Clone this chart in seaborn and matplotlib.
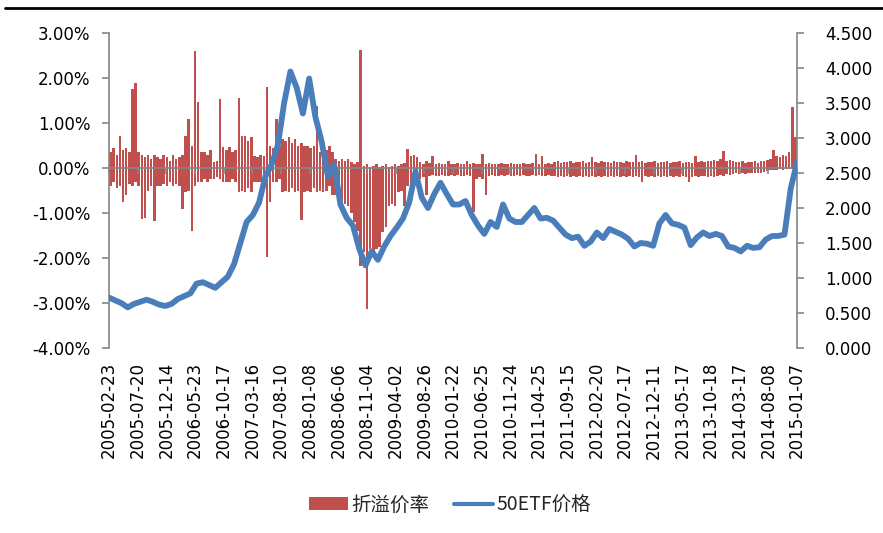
import matplotlib
matplotlib.use("Agg")
import matplotlib.pyplot as plt
import seaborn as sns
import numpy as np
from matplotlib.patches import Patch
from matplotlib.lines import Line2D
from matplotlib.ticker import FuncFormatter

# ---------------- data ----------------
tick_labels = ["2005-02-23", "2005-07-20", "2005-12-14", "2006-05-23", "2006-10-17",
               "2007-03-16", "2007-08-10", "2008-01-08", "2008-06-06", "2008-11-04",
               "2009-04-02", "2009-08-26", "2010-01-22", "2010-06-25", "2010-11-24",
               "2011-04-25", "2011-09-15", "2012-02-20", "2012-07-17", "2012-12-11",
               "2013-05-17", "2013-10-18", "2014-03-17", "2014-08-08", "2015-01-07"]

# 50ETF price, 111 evenly spaced samples over the whole period
price = [0.72, 0.68, 0.64, 0.58, 0.63, 0.66, 0.69, 0.66, 0.62, 0.60,
         0.63, 0.70, 0.74, 0.78, 0.92, 0.94, 0.90, 0.86, 0.94, 1.02,
         1.20, 1.50, 1.80, 1.90, 2.08, 2.45, 2.62, 2.90, 3.50, 3.95,
         3.72, 3.35, 3.85, 3.30, 2.95, 2.45, 2.62, 2.05, 1.86, 1.75,
         1.42, 1.18, 1.38, 1.26, 1.45, 1.60, 1.72, 1.85, 2.08, 2.52,
         2.15, 2.00, 2.20, 2.36, 2.20, 2.05, 2.05, 2.10, 1.90, 1.75,
         1.63, 1.80, 1.73, 2.05, 1.85, 1.80, 1.80, 1.90, 2.00, 1.85,
         1.86, 1.82, 1.72, 1.62, 1.57, 1.59, 1.46, 1.52, 1.65, 1.57,
         1.70, 1.66, 1.62, 1.56, 1.45, 1.50, 1.49, 1.46, 1.78, 1.90,
         1.78, 1.76, 1.72, 1.47, 1.58, 1.65, 1.60, 1.63, 1.60, 1.45,
         1.43, 1.38, 1.46, 1.43, 1.44, 1.55, 1.60, 1.60, 1.62, 2.28,
         2.65]

# premium / discount rate (%), upper and lower extent in 220 evenly spaced slices
prem_pos = [0.35, 0.45, 0.30, 0.72, 0.40, 0.45, 0.35, 1.75, 1.90, 0.35,
            0.30, 0.25, 0.30, 0.20, 0.28, 0.25, 0.20, 0.30, 0.25, 0.15,
            0.30, 0.20, 0.25, 0.30, 0.72, 1.09, 0.50, 2.60, 1.46, 0.35,
            0.35, 0.30, 0.40, 0.13, 0.15, 1.53, 0.46, 0.40, 0.46, 0.35,
            0.40, 1.55, 0.72, 0.72, 0.60, 0.70, 0.27, 0.25, 0.30, 0.27,
            1.79, 0.50, 0.45, 1.09, 0.50, 0.64, 0.60, 0.70, 0.55, 0.64,
            0.50, 0.55, 0.50, 0.50, 0.45, 0.50, 1.38, 0.35, 0.30, 0.40,
            0.50, 0.35, 0.20, 0.15, 0.20, 0.15, 0.20, 0.13, 0.10, 0.13,
            2.63, 0.05, 0.10, 0.00, 0.05, 0.08, 0.03, 0.05, 0.10, 0.03,
            0.05, 0.08, 0.05, 0.10, 0.12, 0.42, 0.27, 0.30, 0.25, 0.13,
            0.10, 0.15, 0.12, 0.27, 0.10, 0.12, 0.08, 0.10, 0.15, 0.10,
            0.08, 0.12, 0.10, 0.10, 0.15, 0.08, 0.12, 0.10, 0.10, 0.31,
            0.09, 0.12, 0.08, 0.10, 0.09, 0.12, 0.10, 0.08, 0.12, 0.09,
            0.10, 0.08, 0.12, 0.09, 0.10, 0.12, 0.31, 0.10, 0.27, 0.10,
            0.12, 0.10, 0.13, 0.15, 0.12, 0.14, 0.13, 0.15, 0.12, 0.14,
            0.13, 0.15, 0.12, 0.14, 0.24, 0.13, 0.12, 0.15, 0.13, 0.14,
            0.12, 0.15, 0.13, 0.14, 0.12, 0.15, 0.13, 0.14, 0.30, 0.13,
            0.15, 0.12, 0.14, 0.13, 0.15, 0.12, 0.14, 0.13, 0.15, 0.12,
            0.14, 0.13, 0.15, 0.12, 0.14, 0.13, 0.12, 0.27, 0.13, 0.15,
            0.14, 0.16, 0.15, 0.18, 0.16, 0.20, 0.38, 0.15, 0.17, 0.15,
            0.14, 0.13, 0.15, 0.12, 0.14, 0.13, 0.15, 0.12, 0.16, 0.15,
            0.18, 0.20, 0.40, 0.27, 0.25, 0.30, 0.27, 0.35, 1.35, 0.70]

prem_neg = [-0.39, -0.30, -0.45, -0.39, -0.76, -0.60, -0.35, -0.39, -0.30, -0.40,
            -1.13, -1.10, -0.50, -0.40, -1.17, -0.40, -0.40, -0.35, -0.40, -0.30,
            -0.40, -0.35, -0.40, -0.90, -0.54, -0.50, -1.39, -0.40, -0.32, -0.30,
            -0.25, -0.32, -0.25, -0.25, -0.20, -0.25, -0.30, -0.32, -0.30, -0.25,
            -0.30, -0.54, -0.50, -0.54, -0.45, -0.54, -0.32, -0.30, -0.32, -0.25,
            -1.98, -0.76, -0.30, -0.30, -0.25, -0.54, -0.50, -0.54, -0.45, -0.54,
            -0.50, -1.16, -0.54, -0.50, -0.54, -0.45, -0.54, -0.50, -0.54, -0.50,
            -0.40, -0.60, -0.60, -0.76, -0.76, -0.80, -0.85, -1.00, -1.20, -1.40,
            -2.17, -1.87, -3.13, -1.80, -1.85, -1.80, -1.75, -1.43, -1.30, -0.84,
            -0.80, -0.84, -0.54, -0.50, -0.84, -0.39, -0.35, -0.39, -0.30, -0.24,
            -0.20, -0.60, -0.17, -0.15, -0.18, -0.17, -0.15, -0.18, -0.17, -0.16,
            -0.18, -0.15, -0.17, -0.18, -0.16, -0.17, -0.98, -0.24, -0.20, -0.24,
            -0.60, -0.17, -0.15, -0.18, -0.17, -0.16, -0.18, -0.15, -0.17, -0.18,
            -0.16, -0.17, -0.15, -0.18, -0.17, -0.16, -0.18, -0.15, -0.17, -0.18,
            -0.16, -0.17, -0.18, -0.20, -0.17, -0.19, -0.18, -0.20, -0.17, -0.19,
            -0.18, -0.20, -0.17, -0.19, -0.18, -0.20, -0.17, -0.19, -0.18, -0.20,
            -0.17, -0.19, -0.18, -0.20, -0.17, -0.19, -0.18, -0.20, -0.17, -0.19,
            -0.30, -0.18, -0.20, -0.17, -0.19, -0.18, -0.20, -0.17, -0.19, -0.18,
            -0.20, -0.17, -0.19, -0.18, -0.20, -0.30, -0.19, -0.18, -0.20, -0.17,
            -0.18, -0.20, -0.17, -0.19, -0.18, -0.15, -0.17, -0.14, -0.15, -0.13,
            -0.12, -0.14, -0.12, -0.13, -0.11, -0.12, -0.10, -0.12, -0.10, -0.08,
            -0.06, -0.05, -0.04, -0.05, -0.03, -0.04, -0.03, -0.02, -0.03, -0.02]

series_names = ["折溢价率", "50ETF价格"]

# ---------------- style ----------------
RED = "#C0504D"
BLUE = "#4A7EBB"
GRAY = "#868686"

sns.set_theme(style="white")
plt.rcParams['font.family'] = ['DejaVu Sans', 'Noto Sans CJK SC']

n_days = 100 * (len(tick_labels) - 1)          # trading-day index range
label_x = np.arange(len(tick_labels)) * 100
price_x = np.arange(len(price)) * n_days / (len(price) - 1)
bar_x = (np.arange(len(prem_pos)) + 0.5) * n_days / len(prem_pos)

fig = plt.figure(figsize=(8.83, 5.33), dpi=100)
ax = fig.add_axes([109 / 883, 1 - 348 / 533, (797 - 109) / 883, (348 - 33) / 533])
ax2 = ax.twinx()

sns.barplot(x=bar_x, y=prem_pos, native_scale=True, width=0.8, color=RED,
            saturation=1, linewidth=0, errorbar=None, ax=ax, zorder=2)
sns.barplot(x=bar_x, y=prem_neg, native_scale=True, width=0.8, color=RED,
            saturation=1, linewidth=0, errorbar=None, ax=ax, zorder=2)
ax.axhline(0, color=GRAY, lw=1.3, zorder=5)

sns.lineplot(x=price_x, y=price, ax=ax2, color=BLUE, linewidth=4.2,
             solid_joinstyle='round', solid_capstyle='round', zorder=4)

# axes limits / ticks
ax.set_xticks(label_x)
ax.set_xticklabels(tick_labels, rotation=90)
ax.set_xlim(0, n_days)
ax.set_ylim(-4, 3)
ax2.set_ylim(0, 4.5)
ax.set_yticks(np.arange(-4, 3.01, 1))
ax.yaxis.set_major_formatter(FuncFormatter(lambda v, p: f"{v:.2f}%"))
ax2.set_yticks(np.arange(0, 4.51, 0.5))
ax2.yaxis.set_major_formatter(FuncFormatter(lambda v, p: f"{v:.3f}"))

ax.tick_params(axis='x', length=0, pad=10, labelsize=12, colors='black')
ax.tick_params(axis='y', direction='out', length=5, width=1.2, color=GRAY,
               labelsize=12, labelcolor='black', pad=8.5)
ax2.tick_params(axis='y', direction='out', length=5, width=1.2, color=GRAY,
                labelsize=12, labelcolor='black', pad=15)
ax.set_xlabel("")
ax.set_ylabel("")
ax2.set_xlabel("")
ax2.set_ylabel("")

for a in (ax, ax2):
    for s in ('top', 'bottom'):
        a.spines[s].set_visible(False)
    a.grid(False)
ax.spines['left'].set_color(GRAY)
ax.spines['left'].set_linewidth(1.2)
ax.spines['right'].set_visible(False)
ax2.spines['left'].set_visible(False)
ax2.spines['right'].set_color(GRAY)
ax2.spines['right'].set_linewidth(1.2)

# small tick marks on the zero line (at the label positions), via the twin's x axis
ax2.xaxis.set_visible(True)
ax2.spines['bottom'].set_position(('axes', 4 / 7))
ax2.xaxis.set_ticks_position('bottom')
ax2.tick_params(axis='x', which='major', direction='out', length=4, width=1.2,
                color=GRAY, bottom=True, top=False, labelbottom=False, labeltop=False)

# legend
handles = [Patch(facecolor=RED, edgecolor='none'),
           Line2D([0], [0], color=BLUE, lw=3)]
fig.legend(handles, series_names, loc='center', bbox_to_anchor=(0.5096, 1 - 505 / 533),
           ncol=2, frameon=False, handlelength=2.0, handleheight=0.6,
           columnspacing=1.3, handletextpad=0.15,
           prop={'family': ['Noto Sans CJK SC', 'DejaVu Sans'], 'size': 14})

# top border line
fig.add_artist(Line2D([0.006, 1.0], [1 - 8 / 533] * 2, transform=fig.transFigure,
                      color='black', lw=2))

fig.savefig("out.png", dpi=100, facecolor='white')
